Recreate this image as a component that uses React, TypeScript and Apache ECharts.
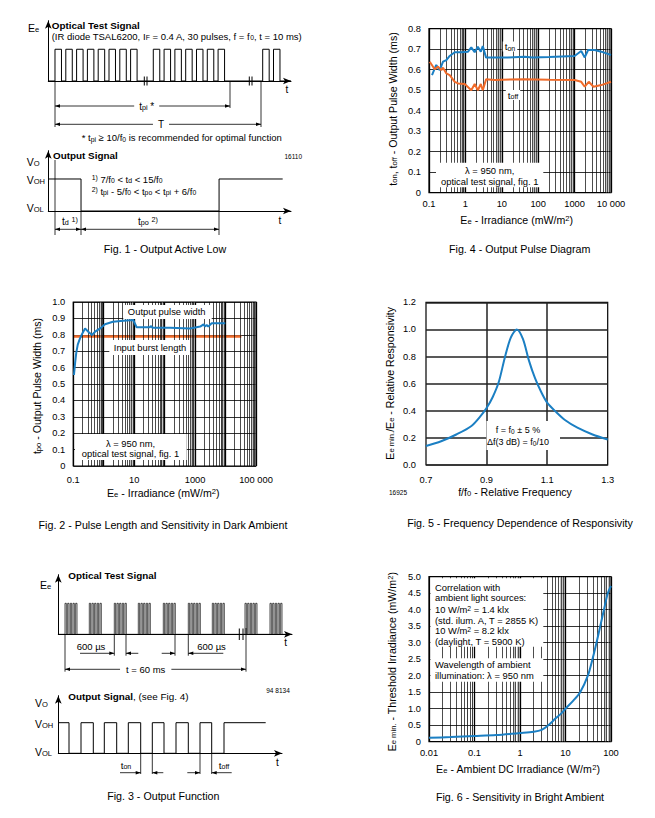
import React, { useEffect, useRef } from 'react';
import * as echarts from 'echarts';

const FONT = '"Liberation Sans", Arial, Helvetica, sans-serif';
const BLUE = '#1b7fc3';
const ORANGE = '#f06b2a';

// ---------- Fig. 4 : Output pulse diagram (x: irradiance mW/m², y: ms)
const fig4Ton: number[][] = [
  [0.121, 0.574], [0.158, 0.623], [0.197, 0.598], [0.243, 0.639], [0.3, 0.647], [0.37, 0.667],
  [0.51, 0.685], [0.78, 0.685], [1.18, 0.688], [1.45, 0.709], [1.8, 0.685], [2.2, 0.712],
  [2.65, 0.688], [3.0, 0.715], [3.7, 0.659], [6.4, 0.659], [15, 0.66], [42, 0.663], [70, 0.66],
  [200, 0.662], [1000, 0.667], [1520, 0.691], [1900, 0.66], [2350, 0.696], [3560, 0.696],
  [5400, 0.688], [10000, 0.672],
];
const fig4Toff: number[][] = [
  [0.105, 0.639], [0.143, 0.602], [0.177, 0.615], [0.218, 0.598], [0.243, 0.61], [0.3, 0.582],
  [0.37, 0.574], [0.51, 0.541], [0.63, 0.533], [0.96, 0.53], [1.45, 0.5], [1.8, 0.53],
  [2.2, 0.5], [2.65, 0.53], [3.0, 0.5], [3.7, 0.553], [6.4, 0.55], [42, 0.554], [200, 0.551],
  [1000, 0.55], [1520, 0.541], [1900, 0.517], [2450, 0.541], [3300, 0.517], [5400, 0.525],
  [10000, 0.541],
];
const fig4XTickValues = [0.1, 1, 10, 100, 1000, 10000];
const fig4XTickLabels = ['0.1', '1', '10', '100', '1000', '10 000'];

// ---------- Fig. 2 : Pulse length in dark ambient
const fig2Output: number[][] = [
  [0.105, 0.555], [0.115, 0.63], [0.125, 0.69], [0.14, 0.74], [0.166, 0.778], [0.2, 0.81],
  [0.243, 0.839], [0.31, 0.819], [0.41, 0.799], [0.52, 0.819], [0.76, 0.839], [1.1, 0.864],
  [2, 0.88], [4.4, 0.886], [9.3, 0.89], [12, 0.846], [33, 0.846], [35, 0.854], [40, 0.843],
  [150, 0.843], [690, 0.839], [1470, 0.85], [1900, 0.864], [2100, 0.85], [2400, 0.86],
  [2700, 0.85], [3500, 0.87], [9800, 0.87],
];
const fig2Input: number[][] = [[0.1, 0.79], [33000, 0.79]];
const fig2XTickValues = [0.1, 10, 1000, 100000];
const fig2XTickLabels = ['0.1', '10', '1000', '100 000'];

// ---------- Fig. 5 : Frequency dependence of responsivity
const fig5Curve: number[][] = [
  [0.7, 0.14], [0.75, 0.175], [0.8, 0.225], [0.85, 0.288], [0.88, 0.36], [0.9, 0.42],
  [0.92, 0.5], [0.94, 0.61], [0.96, 0.79], [0.98, 0.94], [1.0, 1.0], [1.02, 0.93],
  [1.04, 0.77], [1.06, 0.64], [1.08, 0.54], [1.1, 0.46], [1.13, 0.39], [1.16, 0.33],
  [1.2, 0.275], [1.25, 0.225], [1.3, 0.188],
];

// ---------- Fig. 6 : Sensitivity in bright ambient
const fig6Curve: number[][] = [
  [0.01, 0.12], [0.03, 0.14], [0.1, 0.17], [0.3, 0.2], [1, 0.26], [2, 0.3], [3, 0.36],
  [4.2, 0.5], [6, 0.7], [8, 0.85], [10, 1.0], [15, 1.25], [21, 1.5], [31, 2.0], [40, 2.55],
  [48, 3.0], [58, 3.5], [70, 4.0], [85, 4.5], [100, 4.72],
];
const fig6XTickValues = [0.01, 0.1, 1, 10, 100];
const fig6XTickLabels = ['0.01', '0.1', '1', '10', '100'];

// ---------- Timing diagrams (schematic)
// Fig. 1: x in units of 1/f0
const fig1BurstStarts = [0.62, 9.72, 19.85];
const fig1BurstCounts = [8, 7, 2];
const fig1OutEdges = [3.03, 15.81];
// Fig. 3: x in units of 100 µs
const fig3BurstStarts = [3.35, 15.5, 28, 40, 52.5, 65, 77, 93.35, 105.85];
const fig3BurstCounts = [5, 5, 5, 5, 5, 5, 5, 5, 5];
const fig3OutEdges = [5.35, 11.35, 17.5, 23, 29.2, 35, 41.2, 47, 52.85, 58.85, 65, 70.85, 76.7, 82.85];

function pulseTrain(starts: number[], counts: number[], period: number, high: number, end: number) {
  const pts: number[][] = [[0, 0]];
  starts.forEach((s, i) => {
    for (let k = 0; k < counts[i]; k++) {
      const r = s + k * period;
      const f = r + high;
      pts.push([r, 0], [r, 1], [f, 1], [f, 0]);
    }
  });
  pts.push([end, 0]);
  return pts;
}
function edgeWave(edges: number[], end: number) {
  let level = 1;
  const pts: number[][] = [[0, level]];
  edges.forEach((e) => {
    pts.push([e, level]);
    level = 1 - level;
    pts.push([e, level]);
  });
  pts.push([end, level]);
  return pts;
}

function logFormatter(values: number[], labels: string[]) {
  return (v: number) => {
    const lv = Math.log10(v);
    for (let i = 0; i < values.length; i++) {
      if (Math.abs(Math.log10(values[i]) - lv) < 0.01) return labels[i];
    }
    return '';
  };
}
function logGridValues(e0: number, e1: number) {
  const minor: number[] = [];
  const fine: number[] = [];
  const major: number[] = [];
  for (let e = e0; e <= e1; e++) {
    major.push(Math.pow(10, e));
    if (e === e1) break;
    for (const m of [2, 3, 4, 5, 6, 7, 8, 9]) minor.push(m * Math.pow(10, e));
    for (const m of [7.5, 8.5, 9.5]) fine.push(m * Math.pow(10, e));
  }
  return { minor, fine, major };
}

const SUB = 0.72;
const rich = (size: number) => ({
  s: { fontSize: size * SUB, fontFamily: FONT, verticalAlign: 'bottom', fill: '#000' },
  u: { fontSize: size * SUB, fontFamily: FONT, verticalAlign: 'top', fill: '#000' },
  b: { fontSize: size, fontFamily: FONT, fontWeight: 'bold', fill: '#000' },
});

type TOpt = { size?: number; bold?: boolean; align?: string; rot?: number; bg?: string; pad?: number[] };
function T(x: number, y: number, text: string, o: TOpt = {}) {
  const size = o.size ?? 10;
  const align = o.align ?? 'center';
  return {
    type: 'text', x, y, rotation: o.rot ?? 0, z: 100, silent: true,
    style: {
      text, fill: '#000', fontSize: size, fontFamily: FONT, fontWeight: o.bold ? 'bold' : 'normal',
      align, verticalAlign: 'middle', textAlign: align, textVerticalAlign: 'middle',
      rich: rich(size), backgroundColor: o.bg, padding: o.pad,
    },
  };
}
function L(x1: number, y1: number, x2: number, y2: number, w = 1) {
  return { type: 'line', z: 100, silent: true, shape: { x1, y1, x2, y2 }, style: { stroke: '#000', lineWidth: w } };
}
function R(x: number, y: number, width: number, height: number) {
  return { type: 'rect', z: 90, silent: true, shape: { x, y, width, height }, style: { fill: '#fff' } };
}
function head(x: number, y: number, dir: number) {
  return {
    type: 'polygon', z: 100, silent: true,
    shape: { points: [[x, y], [x - dir * 5, y - 1.8], [x - dir * 5, y + 1.8]] },
    style: { fill: '#000' },
  };
}
function dim(x1: number, x2: number, y: number) {
  return [L(x1, y, x2, y, 0.8), head(x1, y, -1), head(x2, y, 1)];
}

const axisLabelStyle = { color: '#000', fontSize: 9.3, fontFamily: FONT };

function timingAxes(gridIndex: number, xMax: number, yMax: number) {
  const line = { show: true, symbol: ['none', 'arrow'], symbolSize: [5, 8], lineStyle: { color: '#000', width: 1 } };
  return {
    x: { type: 'value', gridIndex, min: 0, max: xMax, axisLine: line, axisTick: { show: false }, axisLabel: { show: false }, splitLine: { show: false } },
    y: { type: 'value', gridIndex, min: 0, max: yMax, axisLine: line, axisTick: { show: false }, axisLabel: { show: false }, splitLine: { show: false } },
  };
}

function vLines(idx: number, values: number[], width: number, color: string, anchor: number[]) {
  return {
    type: 'line', xAxisIndex: idx, yAxisIndex: idx, data: [anchor], showSymbol: false, silent: true, z: 1,
    lineStyle: { opacity: 0 },
    markLine: {
      silent: true, symbol: ['none', 'none'], label: { show: false }, animation: false,
      lineStyle: { color, width, type: 'solid' }, emphasis: { disabled: true },
      data: values.map((v) => ({ xAxis: v })),
    },
  };
}

export default function App() {
  const ref = useRef<HTMLDivElement>(null);
  useEffect(() => {
    if (!ref.current) return;
    const chart = echarts.init(ref.current, undefined, { renderer: 'svg' });

    const g4 = logGridValues(-1, 4);
    const g2 = logGridValues(-1, 5);
    const g6 = logGridValues(-2, 2);

    const t1a = timingAxes(4, 22.47, 1.9);
    const t1b = timingAxes(5, 22.47, 1.884);
    const t3a = timingAxes(6, 116.85, 1.923);
    const t3b = timingAxes(7, 111.85, 1.882);

    const plotGrid = { show: true, borderColor: '#000', borderWidth: 1.2, backgroundColor: 'transparent' };

    const ySplit = { show: true, lineStyle: { color: '#000', width: 0.8 } };
    const dec1 = (v: number) => (v === 0 ? '0' : v.toFixed(1));
    const CAP = 10.7;
    const AX = 10.6;

    const graphics: any[] = [
      // ---------------- Fig. 1
      T(28, 28, 'E{s|e}', { size: 10.5, align: 'left' }),
      T(51.7, 25, 'Optical Test Signal', { size: 9.9, bold: true, align: 'left' }),
      T(51.7, 36, '(IR diode TSAL6200, I{s|F} = 0.4 A, 30 pulses, f = f{s|0}, t = 10 ms)', { size: 9.5, align: 'left' }),
      L(144.3, 76.5, 144.3, 85.5), L(147, 76.5, 147, 85.5),
      L(249.3, 76.5, 249.3, 85.5), L(252, 76.5, 252, 85.5),
      T(287, 89.5, 't', { size: 10 }),
      L(55, 81, 55, 127, 0.8), L(230, 81, 230, 108, 0.8), L(261, 81, 261, 127, 0.8),
      ...dim(55, 230, 106), ...dim(55, 261, 124.3),
      T(146.7, 106, 't{s|pi} *', { size: 10, bg: '#fff', pad: [0, 5, 0, 5] }),
      T(161, 124.3, 'T', { size: 10, bg: '#fff', pad: [0, 5, 0, 5] }),
      T(81.7, 137.5, '* t{s|pi} ≥ 10/f{s|0} is recommended for optimal function', { size: 9.5, align: 'left' }),
      T(26.7, 161.7, 'V{s|O}', { size: 10.5, align: 'left' }),
      T(53, 155.7, 'Output Signal', { size: 9.9, bold: true, align: 'left' }),
      T(302, 156, '16110', { size: 6.5, align: 'right' }),
      T(26.7, 180, 'V{s|OH}', { size: 10.5, align: 'left' }),
      T(26.7, 208, 'V{s|OL}', { size: 10.5, align: 'left' }),
      T(91.7, 179, '{u|1)} 7/f{s|0} < t{s|d} < 15/f{s|0}', { size: 9.5, align: 'left' }),
      T(91.7, 191, '{u|2)} t{s|pi} - 5/f{s|0} < t{s|po} < t{s|pi} + 6/f{s|0}', { size: 9.5, align: 'left' }),
      L(55, 160, 55, 235, 0.8), L(81, 211, 81, 235, 0.8), L(219, 211, 219, 235, 0.8),
      ...dim(55, 81, 229.3), ...dim(81, 219, 229.3),
      T(70, 221, 't{s|d} {u|1)}', { size: 10 }),
      T(148, 221, 't{s|po} {u|2)}', { size: 10 }),
      T(280, 220, 't', { size: 10 }),
      T(165, 249, 'Fig. 1 - Output Active Low', { size: CAP }),

      // ---------------- Fig. 3
      T(40, 585, 'E{s|e}', { size: 10.5, align: 'left' }),
      T(68.3, 575.5, 'Optical Test Signal', { size: 9.9, bold: true, align: 'left' }),
      L(239.3, 628.5, 239.3, 640), L(243, 628.5, 243, 640),
      T(285.7, 642, 't', { size: 10 }),
      L(114.3, 634.3, 114.3, 655.7, 0.8), L(126, 634.3, 126, 655.7, 0.8),
      L(175, 634.3, 175, 655.7, 0.8), L(188.3, 634.3, 188.3, 655.7, 0.8),
      L(80, 653.3, 114.3, 653.3, 0.8), head(114.3, 653.3, 1),
      L(126, 653.3, 138.3, 653.3, 0.8), head(126, 653.3, -1),
      L(161.7, 653.3, 175, 653.3, 0.8), head(175, 653.3, 1),
      L(188.3, 653.3, 223.3, 653.3, 0.8), head(188.3, 653.3, -1),
      T(91, 646.7, '600 µs', { size: 9.5 }),
      T(211.5, 646.7, '600 µs', { size: 9.5 }),
      L(65, 634.3, 65, 671.7, 0.8), L(246, 628, 246, 671.7, 0.8),
      ...dim(65, 246, 669.3),
      T(145.7, 669.3, 't = 60 ms', { size: 9.5, bg: '#fff', pad: [0, 6, 0, 6] }),
      T(278, 690, '94 8134', { size: 6.5 }),
      T(35, 703.3, 'V{s|O}', { size: 10.5, align: 'left' }),
      T(35, 724, 'V{s|OH}', { size: 10.5, align: 'left' }),
      T(35, 751.7, 'V{s|OL}', { size: 10.5, align: 'left' }),
      T(68.3, 696.7, '{b|Output Signal}, (see Fig. 4)', { size: 9.9, align: 'left' }),
      L(140.7, 753.3, 140.7, 774, 0.8), L(152.3, 753.3, 152.3, 774, 0.8),
      L(200, 753.3, 200, 774, 0.8), L(211.7, 753.3, 211.7, 774, 0.8),
      L(120, 772.7, 140.7, 772.7, 0.8), head(140.7, 772.7, 1),
      L(152.3, 772.7, 163.3, 772.7, 0.8), head(152.3, 772.7, -1),
      L(187.3, 772.7, 200, 772.7, 0.8), head(200, 772.7, 1),
      L(211.7, 772.7, 231.7, 772.7, 0.8), head(211.7, 772.7, -1),
      T(126, 765, 't{s|on}', { size: 9.8 }),
      T(224, 765, 't{s|off}', { size: 9.8 }),
      T(277.3, 762, 't', { size: 10 }),
      T(163.3, 796, 'Fig. 3 - Output Function', { size: CAP }),

      // ---------------- Fig. 4
      T(393, 109, 't{s|on}, t{s|off} - Output Pulse Width (ms)', { size: AX, rot: Math.PI / 2 }),
      T(516.7, 220, 'E{s|e} - Irradiance (mW/m{u|2})', { size: AX }),
      T(519.7, 249, 'Fig. 4 - Output Pulse Diagram', { size: CAP }),
      R(436, 162.7, 107.3, 24.6),
      T(489.7, 170.7, 'λ = 950 nm,', { size: 9.4 }),
      T(489.7, 181, 'optical test signal, fig. 1', { size: 9.4 }),
      T(510, 46.5, 't{s|on}', { size: 9.8, bg: '#fff', pad: [0, 2, 0, 2] }),
      T(513, 95, 't{s|off}', { size: 9.8, bg: '#fff', pad: [0, 2, 0, 2] }),

      // ---------------- Fig. 2
      T(37, 386, 't{s|po} - Output Pulse Width (ms)', { size: AX, rot: Math.PI / 2 }),
      T(163.3, 493.3, 'E{s|e} - Irradiance (mW/m{u|2})', { size: AX }),
      T(163, 525, 'Fig. 2 - Pulse Length and Sensitivity in Dark Ambient', { size: CAP }),
      R(123.3, 305, 88.4, 14),
      T(166.7, 311.7, 'Output pulse width', { size: 9.4 }),
      R(109.3, 340, 80.7, 15),
      T(150, 347.7, 'Input burst length', { size: 9.4 }),
      R(75, 434, 111.7, 26),
      T(130.5, 443.3, 'λ = 950 nm,', { size: 9.4 }),
      T(130.5, 453.3, 'optical test signal, fig. 1', { size: 9.4 }),

      // ---------------- Fig. 5
      T(390, 383.3, 'E{s|e min.}/E{s|e} - Relative Responsivity', { size: AX, rot: Math.PI / 2 }),
      T(515, 492, 'f/f{s|0} - Relative Frequency', { size: AX }),
      T(398, 492, '16925', { size: 6.5 }),
      T(520, 523, 'Fig. 5 - Frequency Dependence of Responsivity', { size: CAP }),
      R(486.5, 421, 73.5, 29),
      T(518, 430, 'f = f{s|0} ± 5 %', { size: 9 }),
      T(518, 442, 'Δf(3 dB) = f{s|0}/10', { size: 9 }),

      // ---------------- Fig. 6
      T(391.7, 661.7, 'E{s|e min.} - Threshold Irradiance (mW/m{u|2})', { size: AX, rot: Math.PI / 2 }),
      T(518, 769, 'E{s|e} - Ambient DC Irradiance (W/m{u|2})', { size: AX }),
      T(520, 796.7, 'Fig. 6 - Sensitivity in Bright Ambient', { size: CAP }),
      R(430.5, 578.3, 112.8, 68.4),
      R(430.5, 658.3, 112.8, 23.4),
      T(435, 587, 'Correlation with', { size: 9.4, align: 'left' }),
      T(435, 597.7, 'ambient light sources:', { size: 9.4, align: 'left' }),
      T(435, 609, '10 W/m{u|2} = 1.4 klx', { size: 9.4, align: 'left' }),
      T(435, 620, '(std. ilum. A, T = 2855 K)', { size: 9.4, align: 'left' }),
      T(435, 630.7, '10 W/m{u|2} = 8.2 klx', { size: 9.4, align: 'left' }),
      T(435, 641, '(daylight, T = 5900 K)', { size: 9.4, align: 'left' }),
      T(435, 664, 'Wavelength of ambient', { size: 9.4, align: 'left' }),
      T(435, 675.7, 'illumination: λ = 950 nm', { size: 9.4, align: 'left' }),
    ];

    const option: any = {
      animation: false,
      backgroundColor: '#fff',
      textStyle: { fontFamily: FONT },
      grid: [
        { left: 429, top: 28.7, width: 182, height: 164, ...plotGrid },
        { left: 73.3, top: 302, width: 182.7, height: 164, ...plotGrid },
        { left: 426, top: 302.3, width: 181.7, height: 162.7, ...plotGrid },
        { left: 429, top: 576.7, width: 182, height: 165, ...plotGrid },
        { left: 48.3, top: 20.7, width: 242.7, height: 60.3, show: false },
        { left: 48.3, top: 150.7, width: 242.7, height: 60.3, show: false },
        { left: 58.3, top: 574.7, width: 233.7, height: 59.6, show: false },
        { left: 58.3, top: 695.7, width: 223.7, height: 57.6, show: false },
      ],
      xAxis: [
        {
          type: 'log', gridIndex: 0, logBase: 10, min: 0.1, max: 10000, splitNumber: 10,
          axisLine: { show: false }, axisTick: { show: false }, splitLine: { show: false },
          axisLabel: { ...axisLabelStyle, margin: 7, showMinLabel: true, showMaxLabel: true, formatter: logFormatter(fig4XTickValues, fig4XTickLabels) },
        },
        {
          type: 'log', gridIndex: 1, logBase: 10, min: 0.1, max: 100000, splitNumber: 10,
          axisLine: { show: false }, axisTick: { show: false }, splitLine: { show: false },
          axisLabel: { ...axisLabelStyle, margin: 9, showMinLabel: true, showMaxLabel: true, formatter: logFormatter(fig2XTickValues, fig2XTickLabels) },
        },
        {
          type: 'value', gridIndex: 2, min: 0.7, max: 1.3, interval: 0.1,
          axisLine: { show: false }, axisTick: { show: false }, splitLine: { show: false },
          axisLabel: {
            ...axisLabelStyle, margin: 10, showMinLabel: true, showMaxLabel: true,
            formatter: (v: number) => (Math.round(v * 10) % 2 === 1 ? v.toFixed(1) : ''),
          },
        },
        {
          type: 'log', gridIndex: 3, logBase: 10, min: 0.01, max: 100, splitNumber: 10,
          axisLine: { show: false }, axisTick: { show: false }, splitLine: { show: false },
          axisLabel: { ...axisLabelStyle, margin: 7, showMinLabel: true, showMaxLabel: true, formatter: logFormatter(fig6XTickValues, fig6XTickLabels) },
        },
        t1a.x, t1b.x, t3a.x, t3b.x,
      ],
      yAxis: [
        {
          type: 'value', gridIndex: 0, min: 0, max: 0.8, interval: 0.1,
          axisLine: { show: false }, axisTick: { show: false }, splitLine: ySplit,
          axisLabel: { ...axisLabelStyle, margin: 8, formatter: dec1 },
        },
        {
          type: 'value', gridIndex: 1, min: 0, max: 1.0, interval: 0.1,
          axisLine: { show: false }, axisTick: { show: false }, splitLine: ySplit,
          axisLabel: { ...axisLabelStyle, margin: 8, formatter: dec1 },
        },
        {
          type: 'value', gridIndex: 2, min: 0, max: 1.2, interval: 0.2,
          axisLine: { show: false }, axisTick: { show: false },
          splitLine: { show: true, lineStyle: { color: '#222', width: 1.5 } },
          axisLabel: { ...axisLabelStyle, margin: 10, formatter: (v: number) => v.toFixed(1) },
        },
        {
          type: 'value', gridIndex: 3, min: 0, max: 5, interval: 0.5,
          axisLine: { show: false }, axisTick: { show: false }, splitLine: ySplit,
          axisLabel: { ...axisLabelStyle, margin: 8, formatter: dec1 },
        },
        t1a.y, t1b.y, t3a.y, t3b.y,
      ],
      series: [
        vLines(0, g4.fine, 0.5, '#888', [0.1, 0]),
        vLines(0, g4.minor, 0.7, '#000', [0.1, 0]),
        vLines(0, g4.major, 1.3, '#000', [0.1, 0]),
        vLines(1, g2.fine, 0.5, '#888', [0.1, 0]),
        vLines(1, g2.minor, 0.7, '#000', [0.1, 0]),
        vLines(1, g2.major, 1.3, '#000', [0.1, 0]),
        vLines(2, [0.9, 1.1], 1.5, '#222', [0.7, 0]),
        vLines(3, g6.fine, 0.5, '#888', [0.01, 0]),
        vLines(3, g6.minor, 0.7, '#000', [0.01, 0]),
        vLines(3, g6.major, 1.3, '#000', [0.01, 0]),
        { type: 'line', xAxisIndex: 0, yAxisIndex: 0, data: fig4Ton, showSymbol: false, silent: true, z: 5, lineStyle: { color: BLUE, width: 2 } },
        { type: 'line', xAxisIndex: 0, yAxisIndex: 0, data: fig4Toff, showSymbol: false, silent: true, z: 5, lineStyle: { color: ORANGE, width: 2 } },
        { type: 'line', xAxisIndex: 1, yAxisIndex: 1, data: fig2Input, showSymbol: false, silent: true, z: 4, lineStyle: { color: ORANGE, width: 2.6 } },
        { type: 'line', xAxisIndex: 1, yAxisIndex: 1, data: fig2Output, showSymbol: false, silent: true, z: 5, lineStyle: { color: BLUE, width: 2 } },
        { type: 'line', xAxisIndex: 2, yAxisIndex: 2, data: fig5Curve, showSymbol: false, silent: true, z: 5, smooth: 0.3, lineStyle: { color: BLUE, width: 2 } },
        { type: 'line', xAxisIndex: 3, yAxisIndex: 3, data: fig6Curve, showSymbol: false, silent: true, z: 5, smooth: 0.3, lineStyle: { color: BLUE, width: 2 } },
        { type: 'line', xAxisIndex: 4, yAxisIndex: 4, data: pulseTrain(fig1BurstStarts, fig1BurstCounts, 1, 0.6, 22.47), showSymbol: false, silent: true, lineStyle: { color: '#000', width: 1 } },
        { type: 'line', xAxisIndex: 5, yAxisIndex: 5, data: edgeWave(fig1OutEdges, 21.7), showSymbol: false, silent: true, lineStyle: { color: '#000', width: 1 } },
        { type: 'line', xAxisIndex: 6, yAxisIndex: 6, data: pulseTrain(fig3BurstStarts, fig3BurstCounts, 1.333, 0.667, 116.85), showSymbol: false, silent: true, lineStyle: { color: '#000', width: 0.7 } },
        { type: 'line', xAxisIndex: 7, yAxisIndex: 7, data: edgeWave(fig3OutEdges, 103.7), showSymbol: false, silent: true, lineStyle: { color: '#000', width: 1 } },
      ],
      graphic: { elements: graphics },
    };

    chart.setOption(option);
    return () => chart.dispose();
  }, []);

  return <div ref={ref} style={{ position: 'fixed', left: 0, top: 0, width: 655, height: 818 }} />;
}
